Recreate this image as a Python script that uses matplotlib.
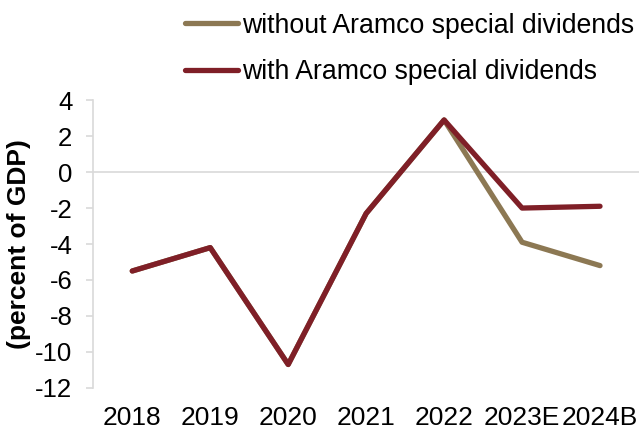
import matplotlib.pyplot as plt
import numpy as np

plt.rcParams['font.family'] = ['Liberation Sans', 'DejaVu Sans']
plt.rcParams['axes.unicode_minus'] = False

years = ['2018', '2019', '2020', '2021', '2022', '2023E', '2024B']
without_div = [-5.5, -4.2, -10.7, -2.3, 2.9, -3.9, -5.2]
with_div = [-5.5, -4.2, -10.7, -2.3, 2.9, -2.0, -1.9]

c_without = '#8C7853'
c_with = '#7F1F27'
grey = '#D9D9D9'

fig = plt.figure(figsize=(6.39, 4.30), dpi=100)
ax = fig.add_axes([0.146, 0.098, 0.854, 0.669])

x = np.arange(len(years))
ax.plot(x, without_div, color=c_without, lw=3.8, solid_capstyle='round',
        label='without Aramco special dividends')
ax.plot(x, with_div, color=c_with, lw=3.8, solid_capstyle='round',
        label='with Aramco special dividends')

ax.set_xlim(-0.5, len(years) - 0.5)
ax.set_ylim(-12, 4)
ax.set_yticks(np.arange(-12, 5, 2))
ax.set_xticks(x)
ax.set_xticklabels(years)

for s in ['top', 'right', 'bottom']:
    ax.spines[s].set_visible(False)
ax.spines['left'].set_color(grey)
ax.spines['left'].set_linewidth(1.2)
ax.axhline(0, color=grey, lw=1.2, zorder=0)

ax.tick_params(axis='y', length=5, color=grey, width=1.2, labelsize=18.5, pad=10)
ax.tick_params(axis='x', length=0, labelsize=19, pad=13)

ax.set_ylabel('(percent of GDP)', fontsize=19, fontweight='bold', labelpad=3)

fig.legend(loc='upper left', bbox_to_anchor=(0.273, 0.995), frameon=False,
           fontsize=19.2, handlelength=2.0, handletextpad=0.12, labelspacing=0.76,
           borderaxespad=0)

fig.savefig('out.png', dpi=100)
